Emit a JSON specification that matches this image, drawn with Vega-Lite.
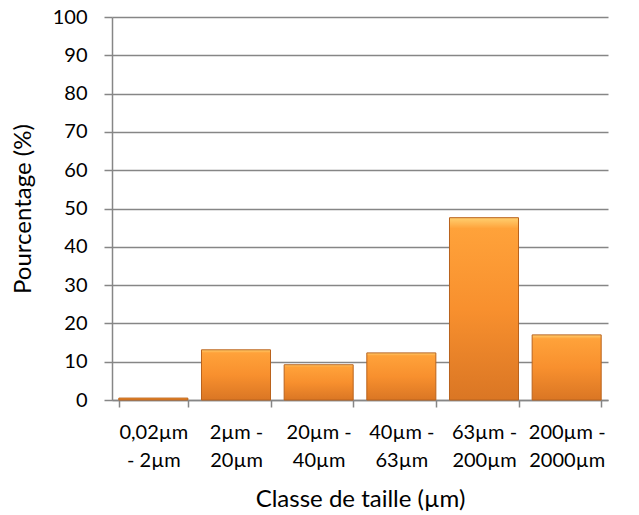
{
  "$schema": "https://vega.github.io/schema/vega-lite/v6.json",
  "width": 496,
  "height": 383,
  "autosize": {"type": "none"},
  "padding": {"left": 112, "top": 17, "right": 31, "bottom": 115},
  "background": "white",
  "config": {
    "view": {"stroke": null},
    "font": "Lato",
    "axis": {
      "labelFont": "Lato",
      "titleFont": "Lato",
      "labelFontSize": 20,
      "titleFontSize": 24,
      "labelColor": "#000000",
      "titleColor": "#000000",
      "titleFontWeight": "normal",
      "domainColor": "#868686",
      "tickColor": "#868686",
      "gridColor": "#868686",
      "domainWidth": 1.5,
      "tickWidth": 1.5,
      "gridWidth": 1.3
    }
  },
  "data": {
    "values": [
      {"classe": "0,02µm|- 2µm", "pct": 0.5},
      {"classe": "2µm -|20µm", "pct": 13.1},
      {"classe": "20µm -|40µm", "pct": 9.2},
      {"classe": "40µm -|63µm", "pct": 12.3},
      {"classe": "63µm -|200µm", "pct": 47.6},
      {"classe": "200µm -|2000µm", "pct": 17.0}
    ]
  },
  "mark": {
    "type": "bar",
    "stroke": "#B9621C",
    "strokeWidth": 1,
    "color": {
      "gradient": "linear",
      "x1": 0, "y1": 0, "x2": 0, "y2": 1,
      "stops": [
        {"offset": 0, "color": "#FFD070"},
        {"offset": 0.06, "color": "#FFA23A"},
        {"offset": 0.5, "color": "#F8902E"},
        {"offset": 1, "color": "#DA7624"}
      ]
    }
  },
  "encoding": {
    "x": {
      "field": "classe",
      "type": "nominal",
      "sort": null,
      "scale": {"paddingInner": 0.165, "paddingOuter": 0.0825},
      "axis": {
        "title": "Classe de taille (µm)",
        "labelAngle": 0,
        "labelExpr": "isValid(datum.value) ? split(datum.value, '|') : ''",
        "labelLineHeight": 28,
        "labelBaseline": "top",
        "labelPadding": 15,
        "tickSize": 7,
        "tickBand": "extent",
        "grid": false,
        "titleY": 106,
        "titleBaseline": "alphabetic"
      }
    },
    "y": {
      "field": "pct",
      "type": "quantitative",
      "scale": {"domain": [0, 100], "nice": false},
      "axis": {
        "title": "Pourcentage (%)",
        "values": [0, 10, 20, 30, 40, 50, 60, 70, 80, 90, 100],
        "tickSize": 8,
        "labelPadding": 17,
        "grid": true,
        "titleX": -82,
        "titleY": 191.5,
        "titleAngle": -90,
        "titleAlign": "center",
        "titleBaseline": "alphabetic"
      }
    }
  }
}
